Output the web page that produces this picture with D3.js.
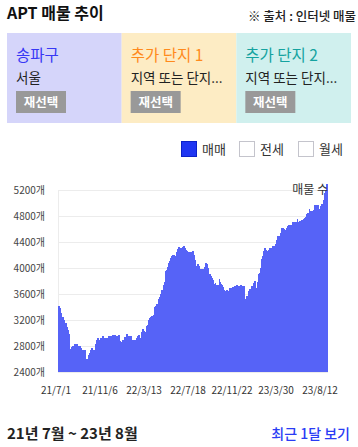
<!DOCTYPE html>
<html><head><meta charset="utf-8">
<script src="https://cdn.jsdelivr.net/npm/d3@7"></script>
<style>
html,body{margin:0;padding:0;background:#fff;}
body{width:358px;height:447px;overflow:hidden;font-family:"Noto Sans CJK KR","Noto Sans",sans-serif;}
</style></head><body>
<svg id="c" width="358" height="447"></svg>
<script>
// ---- data ----
const title = "APT 매물 추이";
const source = "※ 출처 : 인터넷 매물";
const cardTitles = ["송파구", "추가 단지 1", "추가 단지 2"];
const cardSubs = ["서울", "지역 또는 단지...", "지역 또는 단지..."];
const cardButton = "재선택";
const legendItems = ["매매", "전세", "월세"];
const legendChecked = [true, false, false];
const yTicks = [2400, 2800, 3200, 3600, 4000, 4400, 4800, 5200];
const xTickLabels = ["21/7/1", "21/11/6", "22/3/13", "22/7/18", "22/11/22", "23/3/30", "23/8/12"];
const periodLabel = "21년 7월 ~ 23년 8월";
const linkLabel = "최근 1달 보기";
const seriesName = "매물 수";
const values = [
3420,3420,3385,3307,3250,3250,3194,3153,3153,3100,3050,2990,2760,2780,2805,2805,2825,2825,2835,2835,
2795,2795,2795,2770,2743,2743,2743,2743,2605,2605,2666,2700,2733,2770,2770,2743,2743,2835,2892,2928,
2928,2886,2928,2928,2948,2948,2917,2928,2928,2928,2948,2948,2948,2948,2963,2963,2963,2963,2948,2948,
2963,2963,2881,2866,2897,2897,2938,2938,2990,2990,2958,2958,2958,2958,2886,2886,2886,2886,2917,2958,
2974,2974,2923,3010,3066,3066,3035,
3015,3102,3117,3205,3230,3246,3256,3256,3282,3394,3420,3451,3451,3528,3554,3600,3666,3666,3743,3784,
3948,3963,4015,4077,4112,4153,4179,4200,4200,4200,4192,4250,4297,4323,4323,4308,4308,4318,4338,4338,
4308,4282,4266,4246,4246,4246,4246,4261,4261,4205,4128,4035,4056,4056,4035,3984,3984,3989,3989,4015,
4077,4077,4066,4005,3912,3902,3871,3840,3820,3758,3769,3738,3738,3738,3835,3789,3758,3738,3707,3666,
3651,3666,3666,3651,3687,3687,3687,3707,3707,3717,3717,3738,3738,3717,3717,3738,3738,3728,3728,3728,
3528,3574,3574,3651,3682,3682,3728,3728,3764,3805,3805,3692,3779,3912,3922,4000,4138,4179,4256,4308,
4308,4282,4266,4282,4308,4308,4308,4338,4338,4338,4364,4435,4497,4497,4497,4538,4615,4610,4610,4600,
4589,4610,4641,4661,4661,4661,4661,4702,4702,4702,4702,4707,4748,4712,4728,4728,4743,4743,4753,4774,
4784,4835,4846,4846,4907,4871,4871,4871,4897,4963,4963,4974,4974,4974,4912,4948,4984,4984,5051,5153,
5205,5297,5297
];

// ---- layout ----
const svg = d3.select("#c");
const FONT = '"Noto Sans CJK KR","Noto Sans",sans-serif';

svg.append("text").attr("x", 7).attr("y", 19).attr("font-size", 16).attr("font-weight", 700)
  .attr("fill", "#111").attr("font-family", FONT).text(title);
svg.append("text").attr("x", 356).attr("y", 21).attr("text-anchor", "end").attr("font-size", 12.5)
  .attr("font-weight", 500).attr("fill", "#222").attr("font-family", FONT).text(source);

// cards
const cardBg = ["#d5d5fa", "#fdecc4", "#d0f0ee"];
const cardColor = ["#3838f5", "#ff8a1c", "#15a3a0"];
const cardX = d3.scaleBand().domain(d3.range(3)).range([7, 351]);
const cards = svg.selectAll("g.card").data(cardTitles).join("g").attr("class", "card")
  .attr("transform", (d, i) => `translate(${cardX(i)},33)`);
cards.append("rect").attr("width", cardX.bandwidth()).attr("height", 90).attr("fill", (d, i) => cardBg[i]);
cards.append("text").attr("x", 9).attr("y", 28).attr("font-size", 15.5).attr("fill", (d, i) => cardColor[i])
  .attr("font-family", FONT).text(d => d);
cards.append("text").attr("x", 9).attr("y", 50).attr("font-size", 13.5).attr("fill", "#222")
  .attr("font-family", FONT).text((d, i) => cardSubs[i]);
cards.append("rect").attr("x", 9).attr("y", 58).attr("width", 50).attr("height", 22).attr("fill", "#999");
cards.append("text").attr("x", 34).attr("y", 74).attr("text-anchor", "middle").attr("font-size", 12.5)
  .attr("font-weight", 700).attr("fill", "#fff").attr("font-family", FONT).text(cardButton);

// legend
const legX = [181, 239, 298];
const leg = svg.selectAll("g.leg").data(legendItems).join("g").attr("class", "leg")
  .attr("transform", (d, i) => `translate(${legX[i]},141)`);
leg.append("rect").attr("x", 0.5).attr("y", 0.5).attr("width", 15).attr("height", 15)
  .attr("fill", (d, i) => legendChecked[i] ? "#1f36f2" : "#fff")
  .attr("stroke", (d, i) => legendChecked[i] ? "#0c22c8" : "#c4c4cc").attr("stroke-width", 1);
leg.append("text").attr("x", 21).attr("y", 13).attr("font-size", 13).attr("fill", "#333")
  .attr("font-family", FONT).text(d => d);

// chart
const plot = {left: 58, right: 328, top: 190, bottom: 372};
const x = d3.scaleBand().domain(d3.range(values.length)).range([plot.left, plot.right]).padding(0);
const y = d3.scaleLinear().domain([2400, 5200]).range([plot.bottom, plot.top]);

svg.append("g").selectAll("line").data(yTicks).join("line")
  .attr("x1", plot.left).attr("x2", plot.right)
  .attr("y1", d => Math.round(y(d)) + 0.5).attr("y2", d => Math.round(y(d)) + 0.5)
  .attr("stroke", "#ececec").attr("stroke-width", 1);
svg.append("line").attr("x1", plot.left + 0.5).attr("x2", plot.left + 0.5)
  .attr("y1", plot.top).attr("y2", plot.bottom).attr("stroke", "#ececec");

svg.append("g").selectAll("text").data(yTicks).join("text")
  .attr("x", 45).attr("y", d => y(d) + 3.5).attr("text-anchor", "end")
  .attr("font-size", 10).attr("fill", "#444").attr("font-family", FONT)
  .text(d => d + "개");

svg.append("g").selectAll("rect").data(values).join("rect")
  .attr("x", (d, i) => x(i)).attr("width", x.bandwidth() + 0.3)
  .attr("y", d => y(d)).attr("height", d => y(2400) - y(d))
  .attr("fill", "#5663f7").attr("shape-rendering", "crispEdges");

const tickStep = 44;
svg.append("g").selectAll("text").data(xTickLabels).join("text")
  .attr("x", (d, i) => x(i * tickStep) - 2).attr("y", 394).attr("text-anchor", "middle")
  .attr("font-size", 10).attr("fill", "#333").attr("font-family", FONT).text(d => d);

svg.append("text").attr("x", 328).attr("y", 194).attr("text-anchor", "end").attr("font-size", 12)
  .attr("fill", "#333").attr("font-family", FONT).text(seriesName);

// footer
svg.append("text").attr("x", 7).attr("y", 439).attr("font-size", 15).attr("font-weight", 700)
  .attr("fill", "#222").attr("font-family", FONT).text(periodLabel);
svg.append("text").attr("x", 350).attr("y", 439).attr("text-anchor", "end").attr("font-size", 14)
  .attr("font-weight", 500).attr("fill", "#2a3cf5").attr("font-family", FONT).text(linkLabel);
</script></body></html>
